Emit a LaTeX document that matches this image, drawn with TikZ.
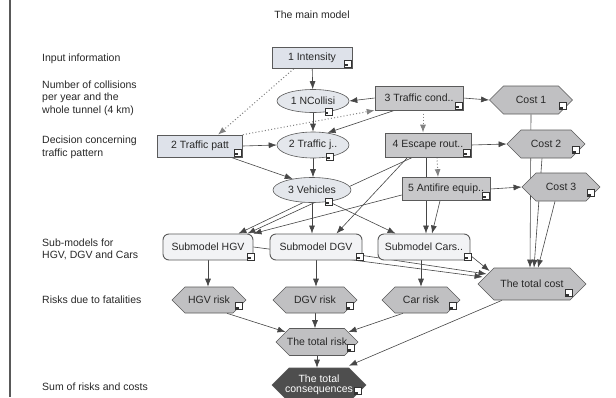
\documentclass[tikz,border=0pt]{standalone}
\usepackage{fontspec}
\setmainfont{Liberation Sans}
\usetikzlibrary{shapes.geometric,shapes.symbols,arrows.meta,calc,backgrounds}
\definecolor{edgec}{RGB}{70,70,70}
\definecolor{dotc}{RGB}{130,130,130}
\definecolor{bordc}{RGB}{90,90,90}
\definecolor{declight}{RGB}{222,226,234}
\definecolor{decdark}{RGB}{200,200,202}
\definecolor{chancec}{RGB}{228,231,236}
\definecolor{subc}{RGB}{242,243,245}
\definecolor{hexc}{RGB}{192,192,194}
\definecolor{finalc}{RGB}{78,78,78}
\definecolor{txtc}{RGB}{40,40,40}
\newcommand\hx[1]{\makebox[20pt][c]{#1}}
\newcommand\iconat[3]{%
  \coordinate (ic) at ($(#1)+(#2,#3)$);
  \draw[line width=0.4pt, draw=black!80, fill=white] ($(ic)+(-3.5,-3.5)$) rectangle ($(ic)+(3.5,3.5)$);
  \fill[black!80] ($(ic)+(-2.5,0.5)$) rectangle ($(ic)+(0.2,2.6)$);
}
\begin{document}
\begin{tikzpicture}[x=1pt,y=-1pt,
  font=\fontsize{10.5}{12.5}\selectfont, text=txtc,
  lbl/.style={inner sep=0pt, align=left, anchor=west},
  decl/.style={rectangle, draw=bordc, line width=0.6pt, fill=declight, inner sep=1pt},
  decd/.style={rectangle, draw=bordc, line width=0.6pt, fill=decdark, inner sep=1pt},
  chance/.style={ellipse, draw=bordc, line width=0.6pt, fill=chancec, inner sep=0pt},
  submod/.style={rectangle, rounded corners=6pt, draw=bordc, line width=0.9pt, fill=subc, inner sep=1pt, minimum width=90pt, minimum height=26pt},
  hexa/.style={signal, signal to=east and west, signal pointer angle=90, draw=bordc, line width=0.6pt, fill=hexc, inner sep=0pt},
  ed/.style={draw=edgec, line width=0.6pt, -{Latex[length=8pt,width=6pt]}},
  dt/.style={draw=dotc, line width=1pt, dash pattern=on 1pt off 2.2pt, -{Latex[length=8pt,width=6pt]}},
]
\useasboundingbox (0,0) rectangle (616,397);
\clip (0,0) rectangle (616,397);
\draw[line width=1.4pt, draw=black!65] (10,0) -- (10,397);

% title and row labels
\node[inner sep=0pt] (title) at (312,15) {The main model};
\node[lbl] (l1) at (42,59) {Input information};
\node[lbl] (l2) at (42,98) {Number of collisions\\per year and the\\whole tunnel (4 km)};
\node[lbl] (l3) at (42,147.5) {Decision concerning\\traffic pattern};
\node[lbl] (l4) at (42,249.5) {Sub-models for\\HGV, DGV and Cars};
\node[lbl] (l5) at (42,300) {Risks due to fatalities};
\node[lbl] (l6) at (42,387) {Sum of risks and costs};

% model nodes
\node[decl, minimum width=80pt, minimum height=21pt] (intensity) at (312,58) {1 Intensity};
\node[chance, minimum width=72pt, minimum height=23pt] (ncoll) at (313,101) {1 NCollisi};
\node[decd, minimum width=88pt, minimum height=24pt] (tcond) at (419,98) {3 Traffic cond..};
\node[hexa, minimum width=83pt, minimum height=28pt] (cost1) at (531,100) {\hx{Cost 1}};
\node[decl, minimum width=85pt, minimum height=22pt] (tpatt) at (200,146) {2 Traffic patt};
\node[chance, minimum width=72pt, minimum height=26pt] (trafj) at (313,145) {2 Traffic j..};
\node[decd, minimum width=86pt, minimum height=24pt] (escape) at (428,145) {4 Escape rout..};
\node[hexa, minimum width=78pt, minimum height=28pt] (cost2) at (546,144) {\hx{Cost 2}};
\node[chance, minimum width=78pt, minimum height=25pt] (vehicles) at (312,190) {3 Vehicles};
\node[decd, minimum width=88pt, minimum height=23pt] (antifire) at (446,189) {5 Antifire equip..};
\node[hexa, minimum width=78pt, minimum height=28pt] (cost3) at (561,187) {\hx{Cost 3}};
\node[submod] (subhgv) at (208,247) {Submodel HGV};
\node[submod, minimum width=92pt] (subdgv) at (316,247) {Submodel DGV};
\node[submod, minimum width=92pt] (subcars) at (424,247) {Submodel Cars..};
\node[hexa, minimum width=108pt, minimum height=32pt] (totcost) at (532,284) {\hx{The total cost}};
\node[hexa, minimum width=74pt, minimum height=26pt] (hgvrisk) at (209,300) {\hx{HGV risk}};
\node[hexa, minimum width=84pt, minimum height=26pt] (dgvrisk) at (315,300) {\hx{DGV risk}};
\node[hexa, minimum width=78pt, minimum height=26pt] (carrisk) at (421,300) {\hx{Car risk}};
\node[hexa, minimum width=82pt, minimum height=27pt] (totrisk) at (317,342) {\hx{The total risk}};
\node[hexa, fill=finalc, text=white, minimum width=94pt, minimum height=34pt] (totcons) at (319,385)
  {\hx{\begin{tabular}{@{}c@{}}The total\\[-3pt]consequences\end{tabular}}};

% small document icons
\foreach \n in {intensity,tcond,tpatt,escape,antifire}{\iconat{\n.south east}{-5}{-5}}
\foreach \n in {ncoll,trafj,vehicles}{\iconat{\n.-35}{0}{0}}
\foreach \n in {subhgv,subdgv,subcars}{\iconat{\n.south east}{-3}{-4}}
\foreach \n/\dx/\dy in {cost1/-10/6,cost2/-10/6,cost3/-10/6,totcost/-18/9,hgvrisk/-8/6,dgvrisk/-8/6,carrisk/-8/6,totrisk/-8/6,totcons/-9/6}{\iconat{\n.east}{\dx}{\dy}}

% connectors
\begin{scope}[on background layer]
\fill[white] (0,0) rectangle (616,397);
\draw[ed] (intensity) -- (ncoll);
\draw[dt] ($(intensity.south west)+(22,0)$) -- ($(tpatt.north)+(18,0)$);
\draw[dt] (tpatt.north east) -- (tcond.south west);
\draw[ed] (tcond.west) -- (ncoll.east);
\draw[ed] (tcond.east) -- (cost1.west);
\draw[ed] ($(tcond.south west)+(20,0)$) -- (trafj.40);
\draw[dt] ($(tcond.south)+(4,0)$) -- ($(escape.north)+(-5,0)$);
\draw[ed] (ncoll) -- (trafj);
\draw[ed] (tpatt.east) -- (trafj.west);
\draw[ed] ($(tpatt.south east)+(-12,0)$) -- (vehicles.150);
\draw[ed] (trafj.south) -- (trafj.south |- vehicles.north);
\draw[ed] (escape.east) -- (cost2.west);
\draw[ed] (antifire.east) -- (cost3.west);
\draw[dt] ($(escape.south)+(9,0)$) -- ($(antifire.north)+(-8,0)$);
\draw[ed] ($(escape.south west)+(28,0)$) -- ($(subhgv.north east)+(-6,0)$);
\draw[ed] ($(escape.south west)+(23,0)$) -- ($(subdgv.north east)+(-26,0)$);
\draw[ed] ($(escape.south)+(-2,0)$) -- ($(subcars.north)+(2,0)$);
\draw[ed] (vehicles.235) -- ($(subhgv.north east)+(-15,0)$);
\draw[ed] (vehicles.south) -- (vehicles.south |- subdgv.north);
\draw[ed] (vehicles.-35) -- ($(subcars.north west)+(18,0)$);
\draw[ed] ($(antifire.west)+(0,6)$) -- (subhgv.north east);
\draw[ed] ($(antifire.south)+(-6,0)$) -- ($(subcars.north)+(8,0)$);
\draw[ed] (cost1.south) -- ($(totcost.north)+(-2,0)$);
\draw[ed] ($(cost2.south)+(-4,0)$) -- ($(totcost.north)+(2,0)$);
\draw[ed] ($(cost3.south)+(-6,0)$) -- ($(totcost.north)+(6,0)$);
\draw[ed] (subhgv.east) -- ($(totcost.west)+(5,-7)$);
\draw[ed] ($(subdgv.south east)+(0,-5)$) -- ($(totcost.west)+(9,-10)$);
\draw[ed] ($(subcars.south east)+(0,-5)$) -- ($(totcost.west)+(12,-13)$);
\draw[ed] (subhgv.south) -- (subhgv.south |- hgvrisk.north);
\draw[ed] (subdgv.south) -- (subdgv.south |- dgvrisk.north);
\draw[ed] (subcars.south -| carrisk) -- (carrisk.north);
\draw[ed] ($(hgvrisk.south)+(18,0)$) -- ($(totrisk.west)+(10,-10)$);
\draw[ed] (dgvrisk.south) -- (dgvrisk.south |- totrisk.north);
\draw[ed] ($(carrisk.south)+(-18,0)$) -- ($(totrisk.east)+(-10,-10)$);
\draw[ed] (totrisk.south) -- (totrisk.south |- totcons.north);
\draw[ed] ($(totcost.south)+(-30,0)$) -- ($(totcons.north)+(30,-2)$);
\end{scope}
\end{tikzpicture}
\end{document}
